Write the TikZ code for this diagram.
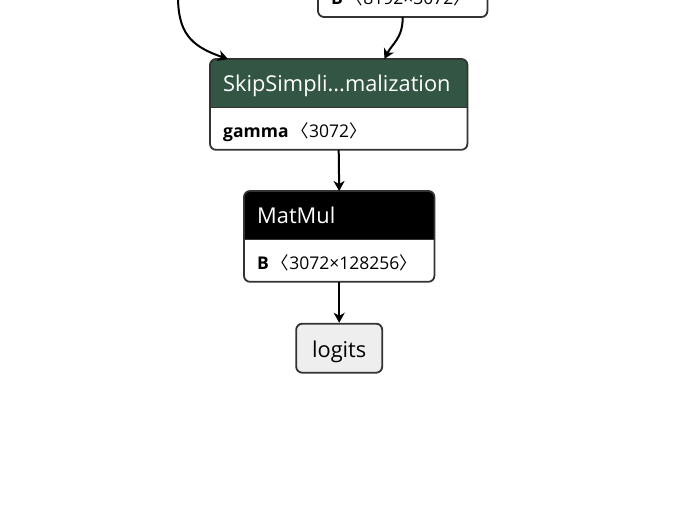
\documentclass[tikz,border=0pt]{standalone}
\usepackage{fontspec}
\setmainfont{Open Sans}
\newfontfamily\cjk{Noto Sans CJK SC}
\usetikzlibrary{arrows.meta,positioning}
\pgfdeclarelayer{background}
\pgfsetlayers{background,main}

\definecolor{normgreen}{RGB}{51,85,68}
\definecolor{boxline}{RGB}{51,51,51}
\definecolor{inputgray}{RGB}{238,238,238}

\newcommand{\shl}{{\cjk 〈}}
\newcommand{\shr}{{\cjk 〉}}

\tikzset{
	head/.style={anchor=north west, inner xsep=13pt, inner ysep=0pt,
		minimum height=48pt, text height=16pt, text depth=0pt,
		align=left, text=white, font=\fontsize{21.8}{24}\selectfont},
	attr/.style={inner xsep=13pt, inner ysep=0pt, minimum height=42pt,
		text height=18pt, text depth=0pt, align=left,
		font=\fontsize{17.5}{20}\selectfont},
	frame/.style={draw=boxline, line width=1.8pt, rounded corners=6pt},
	inbox/.style={frame, fill=inputgray, minimum width=86pt,
		minimum height=49pt, text height=19pt, text depth=0pt,
		font=\fontsize{21.8}{24}\selectfont},
	edge/.style={draw, line width=2pt,
		-{Stealth[length=10pt,width=11pt,inset=3pt]}},
}

\begin{document}
\begin{tikzpicture}[x=1pt,y=-1pt]
	\useasboundingbox (0,0) rectangle (686,510);
	\clip (0,0) rectangle (686,510);

	%wezly
	\node[attr, anchor=south west, text width=143pt] (wB) at (318,17)
		{\textbf{B}\,\shl8192×3072\shr};
	\node[head, text width=231pt] (skip) at (210,59)
		{SkipSimpli...malization};
	\node[attr, text width=231pt, below=0pt of skip] (skipg)
		{\textbf{gamma}\,\shl3072\shr};
	\node[head, text width=164pt] (mm) at (244,191) {MatMul};
	\node[attr, text width=164pt, below=0pt of mm] (mmB)
		{\textbf{B}\,\shl3072×128256\shr};
	\node[inbox, below=41pt of mmB] (logits) {logits};

	%tla
	\begin{pgfonlayer}{background}
		\fill[white] (wB.north west) rectangle (wB.south east);
		\fill[white, rounded corners=6pt] (skip.north west) rectangle (skipg.south east);
		\fill[white, rounded corners=6pt] (mm.north west) rectangle (mmB.south east);
		\begin{scope}
			\clip[rounded corners=6pt] (skip.north west) rectangle (skipg.south east);
			\fill[normgreen] (skip.north west) rectangle (skip.south east);
		\end{scope}
		\begin{scope}
			\clip[rounded corners=6pt] (mm.north west) rectangle (mmB.south east);
			\fill[black] (mm.north west) rectangle (mm.south east);
		\end{scope}
	\end{pgfonlayer}

	%ramki
	\draw[frame] ([yshift=40pt]wB.north west) rectangle (wB.south east);
	\draw[frame] (skip.north west) rectangle (skipg.south east);
	\draw[boxline, line width=0.8pt] (skip.south west) -- (skip.south east);
	\draw[frame] (mm.north west) rectangle (mmB.south east);
	\draw[boxline, line width=0.8pt] (mm.south west) -- (mm.south east);

	%krawedzie
	\coordinate (in) at (178,-4);
	\draw[edge] (in) .. controls (178,32) and (190,46) .. ([xshift=18pt]skip.north west);
	\draw[edge] (wB.south) .. controls (403,38) and (392,44) .. ([xshift=-83pt]skip.north east);
	\draw[edge] (skipg.south) -- (mm.north);
	\draw[edge] (mmB.south) -- (logits.north);
\end{tikzpicture}
\end{document}
